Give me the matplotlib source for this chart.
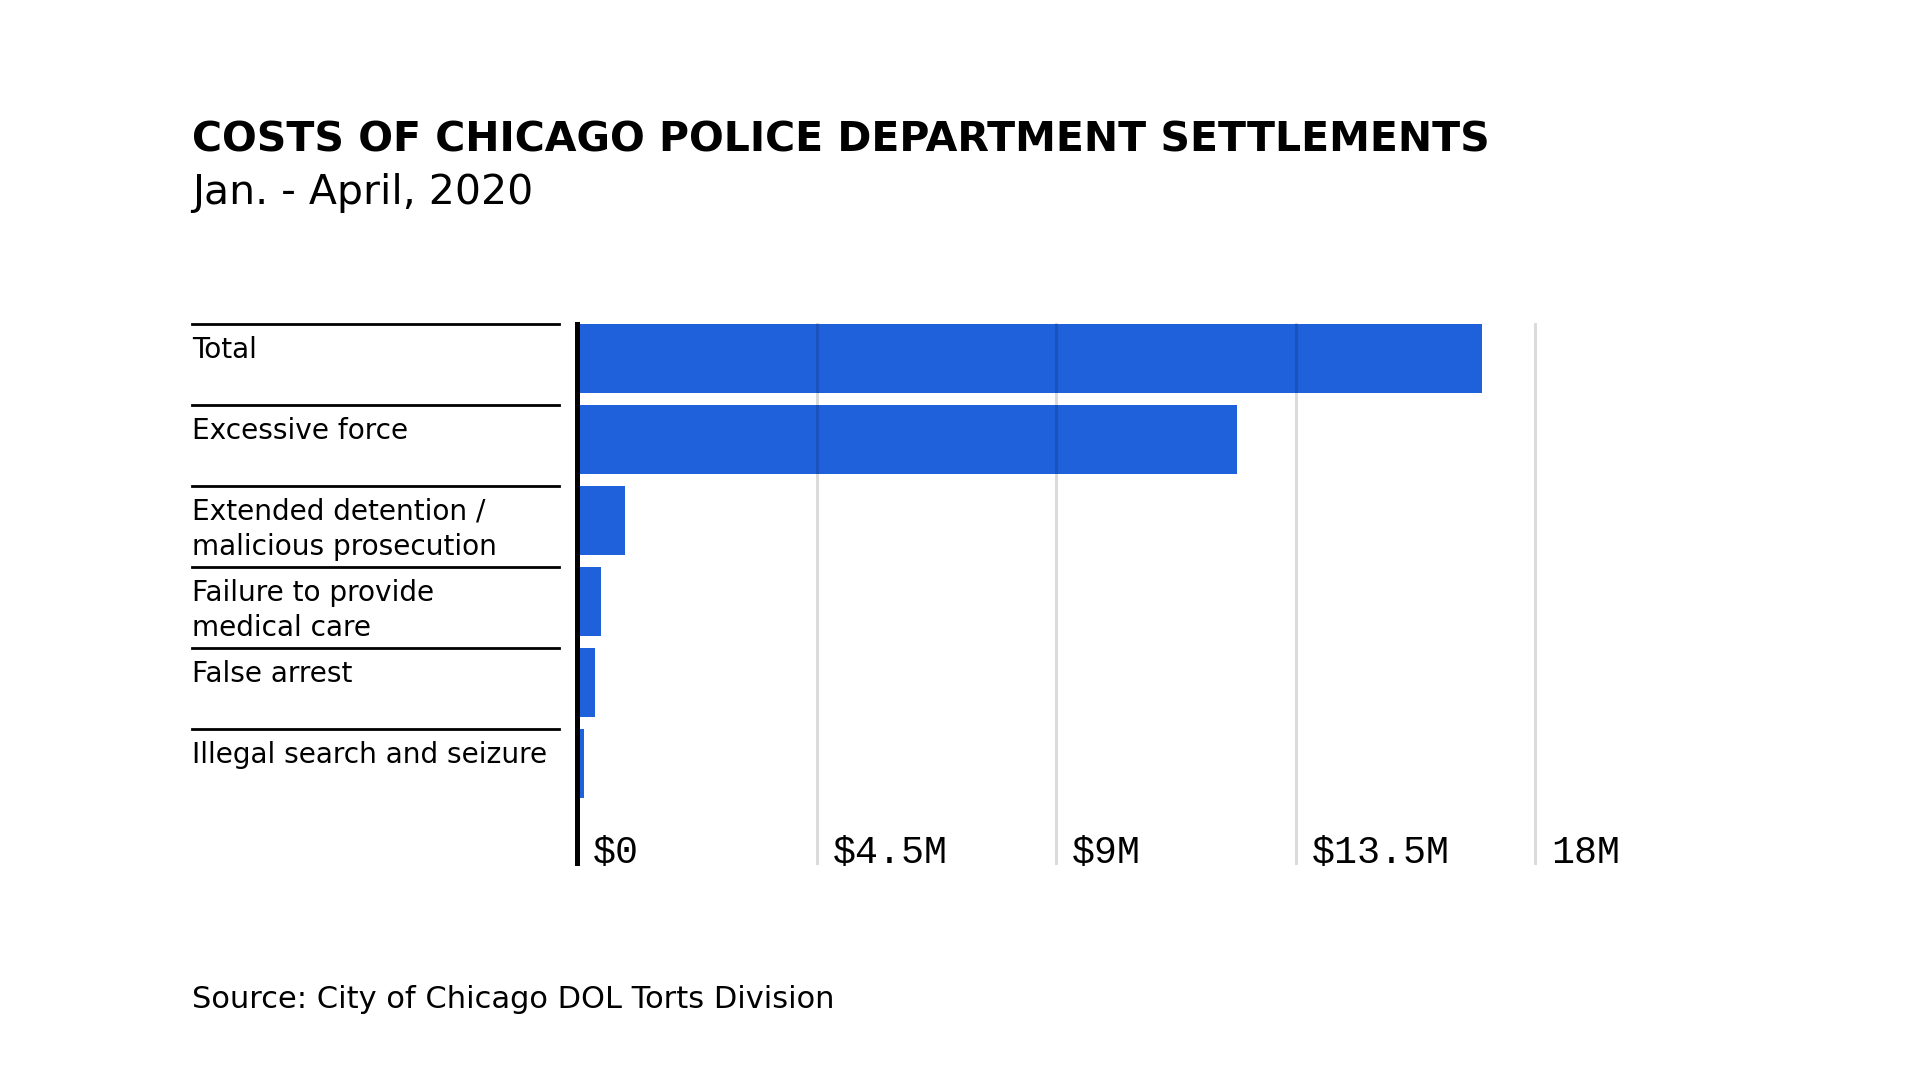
import matplotlib.pyplot as plt
from matplotlib.transforms import blended_transform_factory

# settlement costs in $ millions, Jan - Apr 2020
categories = ["Total", "Excessive force",
              "Extended detention /\nmalicious prosecution",
              "Failure to provide\nmedical care", "False arrest",
              "Illegal search and seizure"]
costs = [17.0, 12.4, 0.91, 0.46, 0.33, 0.14]
tick_values = [0, 4.5, 9, 13.5, 18]
tick_labels = ["$0", "$4.5M", "$9M", "$13.5M", "18M"]

bar_color = "#1f61db"
sans = "DejaVu Sans"
mono = "Liberation Mono"

W, H = 1920, 1080
fig = plt.figure(figsize=(19.2, 10.8), dpi=100)
fig.patch.set_facecolor("white")
ax = fig.add_axes([577 / W, 1 - 863 / H, (1535 - 577) / W, (863 - 324) / H])

bar_h = 0.85
ax.barh(range(len(costs)), costs, height=bar_h, color=bar_color, zorder=1)
ax.set_xlim(0, 18)
ax.set_ylim(6.229, -bar_h / 2)

for v in tick_values[1:]:
    ax.axvline(v, color="black", alpha=0.14, lw=2.2, zorder=3, clip_on=False)

for s in ["top", "right", "bottom"]:
    ax.spines[s].set_visible(False)
ax.spines["left"].set_linewidth(3.6)
ax.spines["left"].set_color("black")
ax.spines["left"].set_zorder(5)
ax.set_xticks([])
ax.set_yticks([])

# tick labels under the gridlines, left-aligned
for v, lab in zip(tick_values, tick_labels):
    ax.annotate(lab, xy=(v, 1 - 853 / H), xycoords=("data", "figure fraction"),
                xytext=(11.5, 0), textcoords="offset points",
                ha="left", va="center", fontsize=27.5, family=mono,
                color="black", parse_math=False, annotation_clip=False)

# row labels with rules on top
tr = blended_transform_factory(fig.transFigure, ax.transData)
for i, cat in enumerate(categories):
    y = i - bar_h / 2
    ax.plot([192 / W, 559 / W], [y, y], color="black", lw=2.0,
            transform=tr, clip_on=False)
    ax.annotate(cat, xy=(192 / W, y), xycoords=("figure fraction", "data"),
                xytext=(0, -8.5), textcoords="offset points",
                ha="left", va="top", fontsize=20.2, family=sans,
                linespacing=1.32, annotation_clip=False)

fig.text(192 / W, 1 - 151 / H, "COSTS OF CHICAGO POLICE DEPARTMENT SETTLEMENTS",
         fontsize=29.5, fontweight="bold", family=sans, va="baseline", ha="left")
fig.text(192 / W, 1 - 204 / H, "Jan. - April, 2020",
         fontsize=29.5, family=sans, va="baseline", ha="left")
fig.text(192 / W, 1 - 1008 / H, "Source: City of Chicago DOL Torts Division",
         fontsize=22, family=sans, va="baseline", ha="left")

fig.savefig("out.png", dpi=100, facecolor="white")
